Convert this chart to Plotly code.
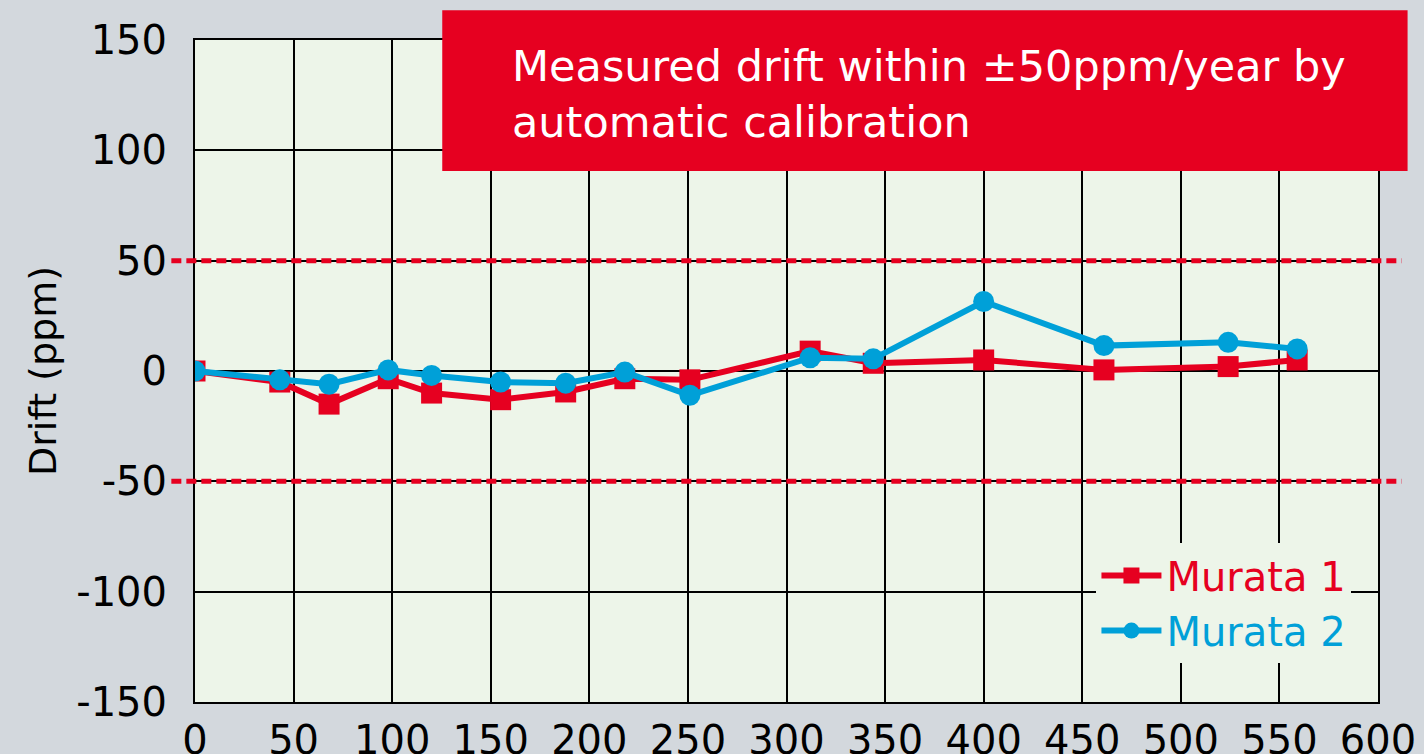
import plotly.graph_objects as go

hours = [0, 43, 68, 98, 120, 155, 188, 218, 251, 312, 344, 400, 461, 524, 559]
murata1 = [0, -5, -15, -3.5, -10, -13, -9.5, -3.5, -4, 9, 3.5, 5, 0.5, 2, 5]
murata2 = [0, -4, -6, 0.5, -2, -5, -5.5, -0.5, -11, 6, 5.5, 31.5, 11.5, 13, 10]

x_ticks = list(range(0, 601, 50))
y_ticks = [-150, -100, -50, 0, 50, 100, 150]
y_labels = [str(v) for v in y_ticks]  # plain hyphen, not the unicode minus
limit = 50

RED = "#E60020"
BLUE = "#00A0D8"
FONT = "DejaVu Sans"

fig = go.Figure()
fig.add_trace(go.Scatter(x=hours, y=murata1, mode="lines+markers",
                         name=f"<span style='color:{RED}'>Murata 1</span>",
                         line=dict(color=RED, width=6),
                         marker=dict(symbol="square", size=21, color=RED)))
fig.add_trace(go.Scatter(x=hours, y=murata2, mode="lines+markers",
                         name=f"<span style='color:{BLUE}'>Murata 2</span>",
                         line=dict(color=BLUE, width=6),
                         marker=dict(symbol="circle", size=21, color=BLUE)))

# +-50 ppm limit lines, running a bit past the plot edges
for yv in (limit, -limit):
    fig.add_shape(type="line", xref="paper", yref="y", x0=-0.02, x1=1.02, y0=yv, y1=yv,
                  line=dict(color=RED, width=5, dash="10px,5px"), layer="above")

# red banner
fig.add_shape(type="rect", xref="paper", yref="paper", x0=0.209, x1=1.025, y0=0.802, y1=1.045,
              fillcolor=RED, line=dict(width=0), layer="above")
fig.add_annotation(xref="paper", yref="paper", x=0.266, y=0.918, xanchor="left", yanchor="middle",
                   align="left", showarrow=False,
                   text="Measured drift within ±50ppm/year by<br>automatic calibration",
                   font=dict(family=FONT, size=43, color="white"))

fig.update_xaxes(range=[0, 600], tickvals=x_ticks, showgrid=True, gridcolor="black", gridwidth=2,
                 showline=True, linecolor="black", linewidth=2, mirror=True, zeroline=False,
                 ticks="", ticklabelstandoff=2, automargin=False,
                 tickfont=dict(family=FONT, size=40, color="black"))
fig.update_yaxes(range=[-150, 150], tickvals=y_ticks, ticktext=y_labels, showgrid=True,
                 gridcolor="black", gridwidth=2,
                 showline=True, linecolor="black", linewidth=2, mirror=True, zeroline=False,
                 ticks="", ticklabelstandoff=18, automargin=False,
                 tickfont=dict(family=FONT, size=40, color="black"),
                 title=dict(text="Drift (ppm)", font=dict(family=FONT, size=38, color="black"), standoff=8))

fig.update_layout(
    width=1424, height=754,
    margin=dict(l=195, r=46, t=40, b=52),
    paper_bgcolor="#D3D8DD", plot_bgcolor="#EDF5E9",
    font=dict(family=FONT),
    legend=dict(x=0.762, y=0.24, xanchor="left", yanchor="top", bgcolor="#EDF5E9",
                font=dict(family=FONT, size=40), itemwidth=60, tracegroupgap=0),
)

# drop the browser's default body margin so the figure sits at the page corner
fig.write_html("out.html", config={"displayModeBar": False},
               post_script="document.body.style.margin='0';")
